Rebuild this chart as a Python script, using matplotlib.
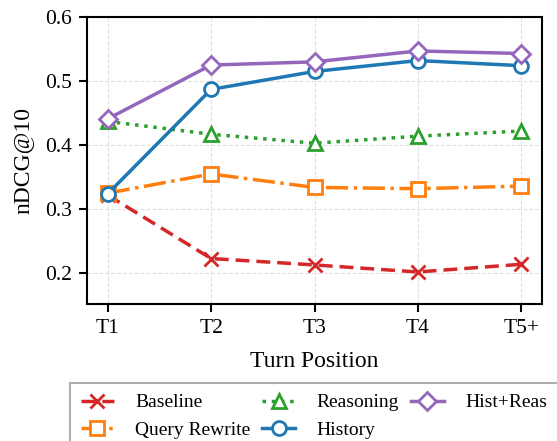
import matplotlib
matplotlib.use("Agg")
import matplotlib.pyplot as plt

turns = ["T1", "T2", "T3", "T4", "T5+"]
baseline = [0.322, 0.223, 0.213, 0.202, 0.214]
query_rewrite = [0.325, 0.355, 0.334, 0.332, 0.336]
reasoning = [0.437, 0.417, 0.403, 0.414, 0.422]
history = [0.324, 0.487, 0.515, 0.532, 0.524]
hist_reas = [0.441, 0.525, 0.530, 0.547, 0.543]

plt.rcParams['font.family'] = ['Liberation Serif', 'DejaVu Serif']

fig = plt.figure(figsize=(5.57, 4.41), dpi=100)
ax = fig.add_axes([87/557, 1-304/441, (542-87)/557, (304-17)/441])

x = list(range(len(turns)))
common = dict(markersize=10, markeredgewidth=2, linewidth=2.5, markerfacecolor='white')
ax.plot(x, baseline, linestyle=(0, (4, 2)), marker='x', color='#d62728', label='Baseline', linewidth=2.5, markersize=10, markeredgewidth=2)
ax.plot(x, query_rewrite, linestyle='-.', marker='s', color='#ff7f0e', label='Query Rewrite', **common)
ax.plot(x, reasoning, linestyle=':', marker='^', color='#2ca02c', label='Reasoning', **common)
ax.plot(x, history, linestyle='-', marker='o', color='#1f77b4', label='History', **common)
ax.plot(x, hist_reas, linestyle='-', marker='D', color='#9467bd', label='Hist+Reas', markersize=9, markeredgewidth=2, linewidth=2.5, markerfacecolor='white')

ax.set_xticks(x)
ax.set_xticklabels(turns)
ax.set_xlim(-0.2, 4.2)
ax.set_ylim(0.152, 0.6)
ax.set_yticks([0.2, 0.3, 0.4, 0.5, 0.6])
ax.tick_params(labelsize=15.5, width=1.5, length=6, pad=5)
for s in ax.spines.values():
    s.set_linewidth(1.5)
ax.grid(True, linestyle='--', color='#e0e0e0', linewidth=0.8)
ax.set_axisbelow(True)
ax.set_xlabel('Turn Position', fontsize=17, labelpad=9)
ax.set_ylabel('nDCG@10', fontsize=17, labelpad=8)

leg = ax.legend(loc='upper left', bbox_to_anchor=(70/557, 1-383/441), bbox_transform=fig.transFigure,
                borderaxespad=0,
                ncol=3, fontsize=14, frameon=True, fancybox=False, edgecolor='#999999',
                borderpad=0.55, handlelength=1.7, columnspacing=0.6, labelspacing=0.5, handletextpad=1.1)
leg.get_frame().set_linewidth(1.5)

fig.savefig('out.png', dpi=100)
